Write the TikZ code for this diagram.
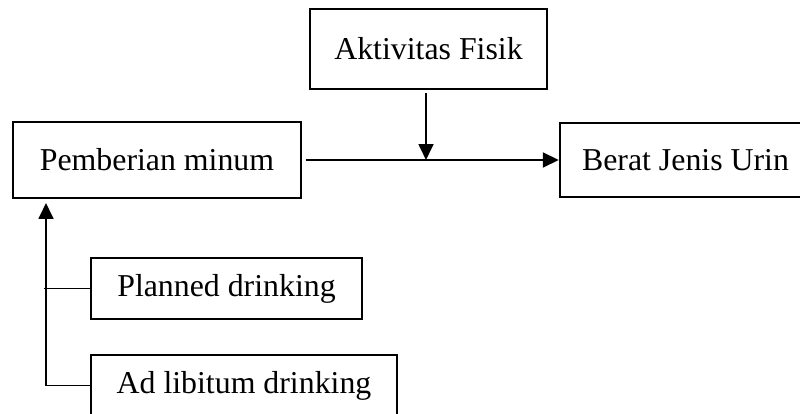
\documentclass[tikz,border=0pt]{standalone}
\usepackage{fontspec}
\setmainfont{Liberation Serif}
\usetikzlibrary{arrows.meta}
\newdimen\pxu
\pxu=0.377pt

\begin{document}
\begin{tikzpicture}[
  x=\pxu, y=-\pxu,
  font=\fontsize{12pt}{14pt}\selectfont,
  box/.style={draw, line width=0.9pt, inner sep=0pt, align=center},
  arr/.style={-{Triangle[length=6pt,width=5.6pt]}, line width=0.75pt},
  link/.style={line width=0.75pt}
]
\useasboundingbox (0,0) rectangle (800,414);

\node[box, minimum width=288\pxu, minimum height=76\pxu] (minum) at (157,160) {Pemberian minum};
\node[box, minimum width=237\pxu, minimum height=80\pxu] (aktif) at (428.5,49) {Aktivitas Fisik};
\node[box, minimum width=251\pxu, minimum height=74\pxu] (berat) at (685.5,160) {Berat Jenis Urin};
\node[box, minimum width=271\pxu, minimum height=61\pxu] (planned) at (226.5,288.5) {Planned drinking};
\node[box, minimum width=306\pxu, minimum height=61\pxu] (adlib) at (244,385.5) {Ad libitum drinking};

\coordinate (trunk) at (46,385.5);
\coordinate (tip) at (46,203);

\draw[arr] ([xshift=4\pxu]minum.east) -- (berat.west);
\draw[arr] ([xshift=-2.5\pxu, yshift=-3\pxu]aktif.south) -- ([xshift=-2.5\pxu]aktif.south |- minum.east);
\draw[arr] (adlib.west) -- (trunk) -- (tip);
\draw[link] (planned.west) -- ([xshift=-2\pxu]trunk |- planned.west);

\end{tikzpicture}
\end{document}
